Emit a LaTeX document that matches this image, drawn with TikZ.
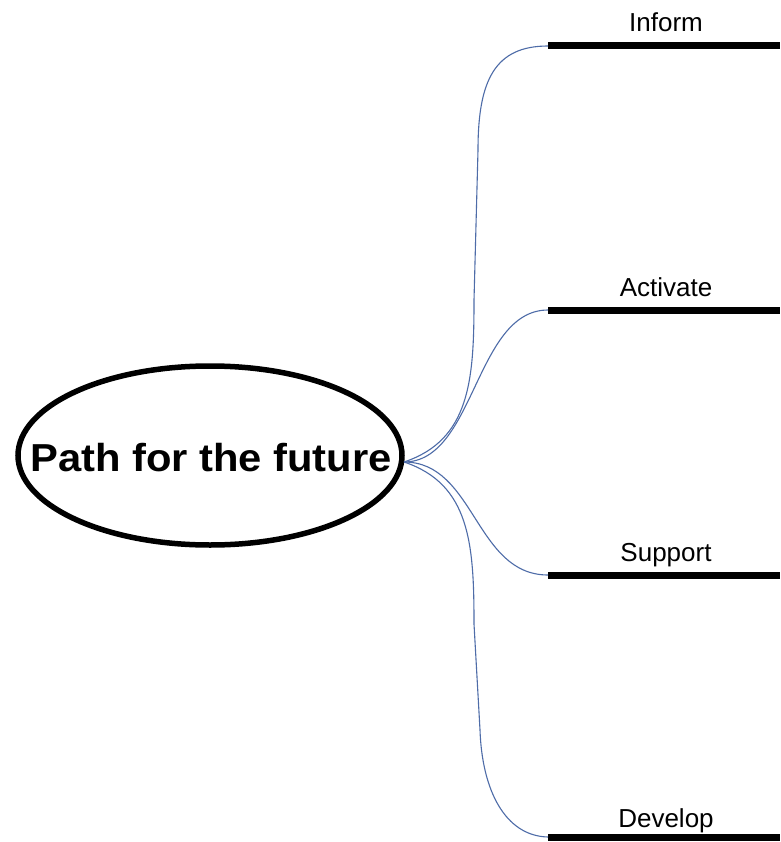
\documentclass[tikz,border=0pt]{standalone}
\usepackage{fontspec}
\setmainfont{Liberation Sans}
\usetikzlibrary{shapes.geometric}
\definecolor{linkblue}{RGB}{78,108,168}
\begin{document}
\begin{tikzpicture}[x=1pt,y=-1pt,
  centre/.style={ellipse,draw=black,line width=5.5pt,minimum width=384pt,minimum height=179pt,inner sep=0pt},
  branchline/.style={line width=7pt,black},
  link/.style={draw=linkblue,line width=1.1pt},
  lbl/.style={anchor=base,inner sep=0pt,font=\fontsize{26}{30}\selectfont}]
\useasboundingbox (0,0) rectangle (780,842);
\fill[white] (0,0) rectangle (780,842);
\node[centre] (c) at (210,455.5) {};
\node[anchor=base,inner sep=0pt,font=\fontsize{39}{44}\selectfont\bfseries,xscale=1.07] (ct) at (211,471.5) {Path for the future};
\coordinate (hub) at (404,462);
% branch lines
\coordinate (i0) at (548,46);  \coordinate (i1) at (780,46);
\coordinate (a0) at (548,310); \coordinate (a1) at (780,310);
\coordinate (s0) at (548,575); \coordinate (s1) at (780,575);
\coordinate (d0) at (548,837); \coordinate (d1) at (780,837);
\draw[branchline] (i0) -- (i1);
\draw[branchline] (a0) -- (a1);
\draw[branchline] (s0) -- (s1);
\draw[branchline] (d0) -- (d1);
\node[lbl] (li) at (666,32) {Inform};
\node[lbl] (la) at (666,296) {Activate};
\node[lbl] (ls) at (666,561) {Support};
\node[lbl] (ld) at (666,827) {Develop};
% connectors
\draw[link] (hub) .. controls (470,440) and (474,380) .. (474,300)
  -- (478,150) .. controls (478,80) and (495,46) .. (i0);
\draw[link] (hub) .. controls (475,462) and (475,310) .. (a0);
\draw[link] (hub) .. controls (475,462) and (475,575) .. (s0);
\draw[link] (hub) .. controls (470,484) and (474,544) .. (474,624)
  -- (480,730) .. controls (482,790) and (505,836) .. (d0);
\end{tikzpicture}
\end{document}
